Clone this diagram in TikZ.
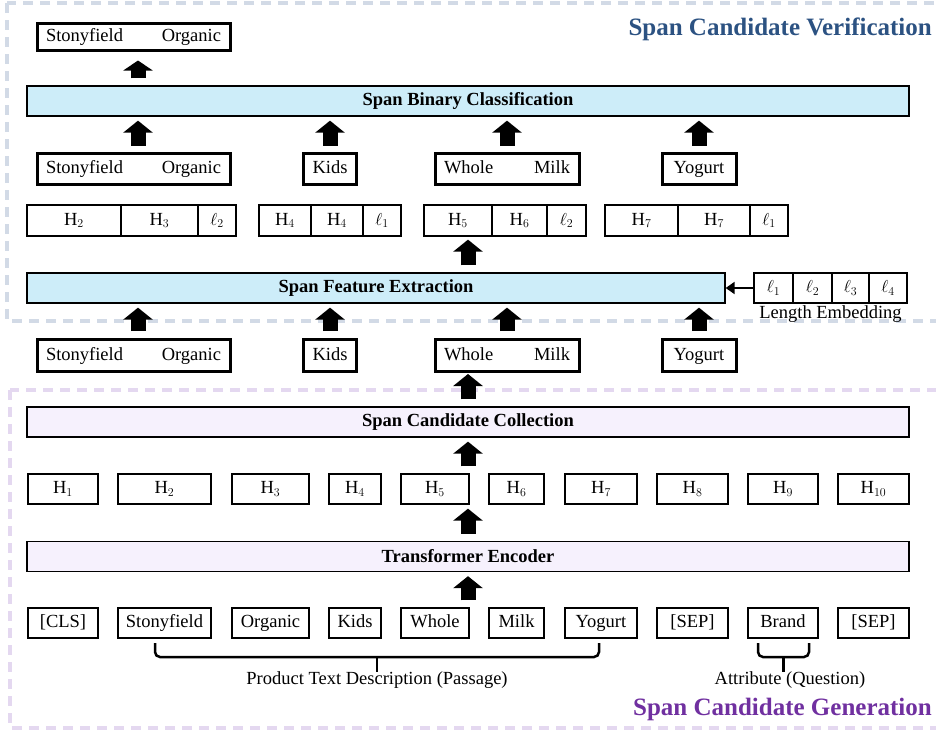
\documentclass[tikz,border=0pt]{standalone}
\usepackage{fontspec}
\setmainfont{Liberation Serif}
\usetikzlibrary{arrows.meta}
\definecolor{barblue}{RGB}{205,237,249}
\definecolor{barlav}{RGB}{246,241,253}
\definecolor{verblue}{RGB}{44,82,130}
\definecolor{genpurple}{RGB}{112,48,160}
\definecolor{dashblue}{RGB}{210,218,230}
\definecolor{dashlav}{RGB}{228,216,240}
\newcommand\bodysize[0]{\fontsize{18.5}{22}\selectfont}

\tikzset{
  txt/.style={inner sep=0pt,font=\bodysize},
  tok/.style={draw,line width=1.3pt,minimum height=30pt,inner sep=0pt,text height=13pt,text depth=4pt,font=\bodysize},
  spanbox/.style={draw,line width=3pt,minimum height=31pt,inner xsep=9pt,inner ysep=0pt,text height=13pt,text depth=4pt,font=\bodysize},
  bar/.style={draw,line width=1.3pt,minimum height=30pt,inner sep=0pt,font=\bfseries\bodysize},
  ttl/.style={inner sep=0pt,font=\bfseries\fontsize{25}{29}\selectfont},
  dashframe/.style={line width=3.5pt,dash pattern=on 10pt off 7pt},
  blockup/.style={line width=15pt,-{Triangle[width=29pt,length=12pt]},shorten <=7pt,shorten >=4pt},
  bracepath/.style={line width=2.5pt,rounded corners=5pt},
}

\begin{document}
\begin{tikzpicture}[x=1pt,y=-1pt]

\clip (0,0) rectangle (936,731);

% dashed frames
\draw[dashblue,dashframe] (7,3) rectangle (960,321);
\draw[dashlav,dashframe] (10,390) rectangle (960,728);

% titles
\node[ttl,text=verblue,anchor=base east] (vt) at (932,35) {Span Candidate Verification};
\node[ttl,text=genpurple,anchor=base east] (gt) at (932,715) {Span Candidate Generation};

% bars
\node[bar,fill=barblue,minimum width=882pt] (sbc) at (468,101) {Span Binary Classification};
\node[bar,fill=barblue,minimum width=698pt] (sfe) at (376,288) {Span Feature Extraction};
\node[bar,fill=barlav,minimum width=882pt] (scc) at (468,422) {Span Candidate Collection};
\node[bar,fill=barlav,minimum width=882pt] (te) at (468,556.5) {Transformer Encoder};

% verified span
\node[spanbox,minimum height=27pt,text width=175pt] (out) at (133.5,36.5) {Stonyfield\hfill Organic};

% spans for classification
\node[spanbox,text width=175pt] (so1) at (133.5,168.5) {Stonyfield\hfill Organic};
\node[spanbox,minimum width=52pt] (ki1) at (330,168.5) {Kids};
\node[spanbox,text width=126pt] (wm1) at (507,168.5) {Whole\hfill Milk};
\node[spanbox,minimum width=74pt] (yo1) at (699,168.5) {Yogurt};

% span features
\node[tok,minimum width=94pt,minimum height=31pt] (fa1) at (74,220.5) {H$_2$};
\node[tok,minimum width=77pt,minimum height=31pt] (fa2) at (159.5,220.5) {H$_3$};
\node[tok,minimum width=38pt,minimum height=31pt] (fa3) at (217,220.5) {$\ell_2$};
\node[tok,minimum width=52pt,minimum height=31pt] (fb1) at (285,220.5) {H$_4$};
\node[tok,minimum width=52pt,minimum height=31pt] (fb2) at (337,220.5) {H$_4$};
\node[tok,minimum width=38pt,minimum height=31pt] (fb3) at (382,220.5) {$\ell_1$};
\node[tok,minimum width=68pt,minimum height=31pt] (fc1) at (458,220.5) {H$_5$};
\node[tok,minimum width=55pt,minimum height=31pt] (fc2) at (519.5,220.5) {H$_6$};
\node[tok,minimum width=39pt,minimum height=31pt] (fc3) at (566.5,220.5) {$\ell_2$};
\node[tok,minimum width=73pt,minimum height=31pt] (fd1) at (641.5,220.5) {H$_7$};
\node[tok,minimum width=72pt,minimum height=31pt] (fd2) at (714,220.5) {H$_7$};
\node[tok,minimum width=38pt,minimum height=31pt] (fd3) at (769,220.5) {$\ell_1$};

% length embedding
\node[tok,minimum width=39pt] (e1) at (773.5,288) {$\ell_1$};
\node[tok,minimum width=39pt] (e2) at (812.5,288) {$\ell_2$};
\node[tok,minimum width=37pt] (e3) at (850.5,288) {$\ell_3$};
\node[tok,minimum width=38pt] (e4) at (888,288) {$\ell_4$};
\node[txt,anchor=base] (elab) at (830.5,318) {Length Embedding};

% candidate spans
\node[spanbox,minimum height=32pt,text width=175pt] (so2) at (133.5,355.5) {Stonyfield\hfill Organic};
\node[spanbox,minimum height=32pt,minimum width=52pt] (ki2) at (330,355.5) {Kids};
\node[spanbox,minimum height=32pt,text width=126pt] (wm2) at (507,355.5) {Whole\hfill Milk};
\node[spanbox,minimum height=32pt,minimum width=74pt] (yo2) at (699,355.5) {Yogurt};

% hidden states
\node[tok,minimum width=70pt] (h1) at (63,489) {H$_1$};
\node[tok,minimum width=93pt] (h2) at (164.5,489) {H$_2$};
\node[tok,minimum width=77pt] (h3) at (270.5,489) {H$_3$};
\node[tok,minimum width=52pt] (h4) at (355,489) {H$_4$};
\node[tok,minimum width=68pt] (h5) at (435,489) {H$_5$};
\node[tok,minimum width=55pt] (h6) at (516.5,489) {H$_6$};
\node[tok,minimum width=72pt] (h7) at (601,489) {H$_7$};
\node[tok,minimum width=71pt] (h8) at (692.5,489) {H$_8$};
\node[tok,minimum width=70pt] (h9) at (783,489) {H$_9$};
\node[tok,minimum width=71pt] (h10) at (873.5,489) {H$_{10}$};

% input tokens
\node[tok,minimum width=70pt] (w1) at (63,623) {[CLS]};
\node[tok,minimum width=93pt] (w2) at (164.5,623) {Stonyfield};
\node[tok,minimum width=77pt] (w3) at (270.5,623) {Organic};
\node[tok,minimum width=52pt] (w4) at (355,623) {Kids};
\node[tok,minimum width=68pt] (w5) at (435,623) {Whole};
\node[tok,minimum width=55pt] (w6) at (516.5,623) {Milk};
\node[tok,minimum width=72pt] (w7) at (601,623) {Yogurt};
\node[tok,minimum width=71pt] (w8) at (692.5,623) {[SEP]};
\node[tok,minimum width=70pt] (w9) at (783,623) {Brand};
\node[tok,minimum width=71pt] (w10) at (873.5,623) {[SEP]};

% braces
\draw[bracepath] (155,643) -- (155,657) -- (599,657) -- (599,643);
\draw[bracepath] (377,657) -- (377,672);
\draw[bracepath] (758,643) -- (758,657) -- (809,657) -- (809,643);
\draw[bracepath] (783.5,657) -- (783.5,672);
\node[txt,anchor=base] (pas) at (377,684) {Product Text Description (Passage)};
\node[txt,anchor=base] (att) at (790,684) {Attribute (Question)};

% arrows
\draw[blockup] (w5.north -| te.south) -- (te.south);
\draw[blockup] (te.north) -- (te.north |- h5.south);
\draw[blockup] (h5.north -| scc.south) -- (scc.south);
\draw[blockup,shorten >=1pt] (scc.north) -- (scc.north |- wm2.south);
\draw[blockup] ([xshift=4.5pt]so2.north) -- ([xshift=4.5pt]so2.north |- sfe.south);
\draw[blockup] (ki2.north) -- (ki2.north |- sfe.south);
\draw[blockup] (wm2.north) -- (wm2.north |- sfe.south);
\draw[blockup] (yo2.north) -- (yo2.north |- sfe.south);
\draw[line width=2pt,-{Triangle[width=12pt,length=9pt]}] (e1.west) -- (sfe.east);
\draw[blockup,shorten >=3pt] (sfe.north -| te.north) -- (fc1.south -| te.north);
\draw[blockup,shorten <=6pt] ([xshift=4.5pt]so1.north) -- ([xshift=4.5pt]so1.north |- sbc.south);
\draw[blockup,shorten <=6pt] (ki1.north) -- (ki1.north |- sbc.south);
\draw[blockup,shorten <=6pt] (wm1.north) -- (wm1.north |- sbc.south);
\draw[blockup,shorten <=6pt] (yo1.north) -- (yo1.north |- sbc.south);
\draw[blockup,shorten <=7pt,shorten >=9pt,-{Triangle[width=29pt,length=10pt]}] ([xshift=4.5pt]out.south |- sbc.north) -- ([xshift=4.5pt]out.south);

\end{tikzpicture}
\end{document}
